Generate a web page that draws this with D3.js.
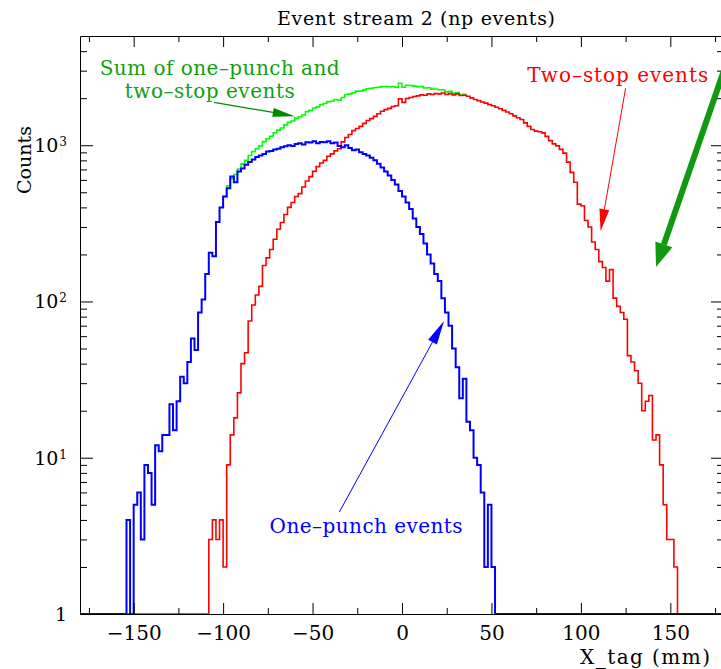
<!DOCTYPE html>
<html>
<head>
<meta charset="utf-8">
<script src="https://cdn.jsdelivr.net/npm/d3@7"></script>
<style>
  body { margin: 0; background: #fff; }
  svg { display: block; }
  text { font-family: "DejaVu Serif", "Liberation Serif", serif; }
</style>
</head>
<body>
<div id="chart"></div>
<script>
// histogram bins are 2 mm wide; each series starts at its own left edge
const binWidth = 2;

// one-punch events (blue)
const onePunchStart = -154;
const onePunchCounts = [
  4, 0, 5, 6, 3, 9, 8, 5, 12, 11,
  14, 14, 22, 15, 23, 33, 30, 41, 58, 49,
  85, 103, 150, 205, 195, 322, 400, 470, 530, 630,
  580, 680, 710, 750, 780, 810, 840, 860, 880, 910,
  920, 940, 950, 970, 985, 1000, 990, 1020, 1030, 1010,
  1045, 1040, 1060, 1030, 1050, 1045, 1060, 1030, 1040, 990,
  970, 1000, 960, 930, 940, 900, 880, 860, 830, 800,
  760, 720, 680, 640, 600, 560, 510, 470, 430, 390,
  340, 300, 270, 235, 200, 175, 150, 135, 105, 85,
  70, 50, 38, 24, 32, 17, 15, 10, 9, 6,
  2, 5, 2
];

// two-stop events (red)
const twoStopStart = -108;
const twoStopCounts = [
  3, 4, 3, 4, 2, 9, 14, 18, 26, 40,
  47, 75, 95, 110, 125, 170, 190, 215, 250, 290,
  320, 360, 400, 430, 470, 490, 540, 590, 630, 680,
  730, 770, 800, 850, 880, 920, 950, 1050, 1120, 1170,
  1240, 1280, 1320, 1380, 1440, 1480, 1530, 1590, 1650, 1690,
  1720, 1770, 1790, 1980, 1880, 1990, 2020, 2050, 2070, 2100,
  2090, 2130, 2110, 2140, 2130, 2160, 2110, 2140, 2100, 2130,
  2080, 2090, 2060, 2010, 1960, 1930, 1890, 1860, 1820, 1790,
  1750, 1710, 1670, 1630, 1590, 1540, 1500, 1460, 1390, 1320,
  1260, 1230, 1220, 1200, 1140, 1070, 1020, 990, 940, 890,
  780, 670, 580, 420, 410, 330, 300, 240, 215, 180,
  165, 135, 160, 105, 93, 85, 77, 45, 41, 36,
  30, 20, 23, 25, 13, 14, 9, 5, 3, 3,
  2
];

// sum of one-punch and two-stop (green), visible part only
const sumStart = -100;
const sumCounts = [
  470, 550, 610, 650, 705, 760, 800, 860, 910, 950,
  990, 1055, 1100, 1140, 1200, 1250, 1290, 1350, 1400, 1430,
  1490, 1520, 1560, 1640, 1670, 1730, 1760, 1820, 1850, 1900,
  1910, 1960, 1940, 2020, 2110, 2130, 2170, 2220, 2220, 2260,
  2300, 2310, 2330, 2350, 2370, 2370, 2360, 2370, 2350, 2490,
  2350, 2420, 2410, 2390, 2370, 2370, 2325, 2330, 2285, 2290,
  2265, 2265, 2195, 2210, 2150, 2170, 2105, 2120
];

const xMajorTicks = [-150, -100, -50, 0, 50, 100, 150];
const xMinorTicks = [-175, -125, -75, -25, 25, 75, 125, 175];
const yMajorTicks = [1, 10, 100, 1000];
const yMinorTicks = [2, 3, 4, 5, 6, 7, 8, 9, 20, 30, 40, 50, 60, 70, 80, 90,
                     200, 300, 400, 500, 600, 700, 800, 900, 2000, 3000, 4000];

const W = 721, H = 669;
const margin = { top: 36, right: -3, bottom: 55, left: 80 };
const width = W - margin.left - margin.right,
      height = H - margin.top - margin.bottom;

const svg = d3.select("#chart").append("svg")
    .attr("width", W)
    .attr("height", H);

const g = svg.append("g")
    .attr("transform", "translate(" + margin.left + "," + margin.top + ")");

// scales
const x = d3.scaleLinear().domain([-180, 180]).range([0, width]);
const y = d3.scaleLog().domain([1, 5000]).range([height, 0]);
const yc = v => y(Math.max(v, 1));

g.append("clipPath").attr("id", "plot-clip")
  .append("rect").attr("width", width).attr("height", height + 2).attr("y", -1);

// step outline of a histogram
function histPoints(start, counts, closed) {
  const pts = counts.map((c, i) => [start + i * binWidth, c]);
  const end = start + counts.length * binWidth;
  if (closed) {
    pts.unshift([-180, 0]);
    pts.push([end, 0], [180, 0]);
  } else {
    pts.push([end, counts[counts.length - 1]]);
  }
  return pts;
}

const line = d3.line()
    .x(d => x(d[0]))
    .y(d => yc(d[1]))
    .curve(d3.curveStepAfter);

const plot = g.append("g").attr("clip-path", "url(#plot-clip)");

plot.append("path")
    .attr("d", line(histPoints(sumStart, sumCounts, false)))
    .attr("fill", "none").attr("stroke", "#00ff00").attr("stroke-width", 1.6);

plot.append("path")
    .attr("d", line(histPoints(twoStopStart, twoStopCounts, true)))
    .attr("fill", "none").attr("stroke", "#ff0000").attr("stroke-width", 1.6);

plot.append("path")
    .attr("d", line(histPoints(onePunchStart, onePunchCounts, true)))
    .attr("fill", "none").attr("stroke", "#0000ff").attr("stroke-width", 2);

// axes: ticks on all four sides, pointing inwards
function styleAxis(sel) {
  sel.selectAll("path, line").attr("stroke", "#000").attr("stroke-width", 1);
  sel.selectAll("text").attr("fill", "#000").style("font-family", "DejaVu Serif, serif");
}

const xAxis = d3.axisBottom(x).tickValues(xMajorTicks).tickSizeInner(-11).tickSizeOuter(0).tickPadding(12);
g.append("g").attr("class", "x-axis axis")
    .attr("transform", "translate(0," + height + ")")
    .call(xAxis)
    .call(styleAxis)
    .selectAll("text").style("font-size", "20px");

g.append("g").attr("transform", "translate(0," + height + ")")
    .call(d3.axisBottom(x).tickValues(xMinorTicks).tickSizeInner(-6).tickSizeOuter(0).tickFormat(""))
    .call(styleAxis).select(".domain").remove();

g.append("g")
    .call(d3.axisTop(x).tickValues(xMajorTicks).tickSizeInner(-11).tickSizeOuter(0).tickFormat(""))
    .call(styleAxis);
g.append("g")
    .call(d3.axisTop(x).tickValues(xMinorTicks).tickSizeInner(-6).tickSizeOuter(0).tickFormat(""))
    .call(styleAxis).select(".domain").remove();

const yAxis = d3.axisLeft(y).tickValues(yMajorTicks).tickSizeInner(-13).tickSizeOuter(0).tickPadding(13).tickFormat("");
const yG = g.append("g").attr("class", "y-axis axis").call(yAxis).call(styleAxis);
yG.selectAll(".tick").each(function (d) {
  const t = d3.select(this).select("text")
      .style("font-size", "19px")
      .attr("dy", "0.34em");
  if (d === 1) {
    t.text("1");
  } else {
    t.text("10");
    t.append("tspan").text(Math.round(Math.log10(d)))
        .attr("dy", "-0.5em").attr("dx", "1").style("font-size", "12px");
  }
});

g.append("g")
    .call(d3.axisLeft(y).tickValues(yMinorTicks).tickSizeInner(-7).tickSizeOuter(0).tickFormat(""))
    .call(styleAxis).select(".domain").remove();

g.append("g").attr("transform", "translate(" + width + ",0)")
    .call(d3.axisRight(y).tickValues(yMajorTicks).tickSizeInner(-13).tickSizeOuter(0).tickFormat(""))
    .call(styleAxis);
g.append("g").attr("transform", "translate(" + width + ",0)")
    .call(d3.axisRight(y).tickValues(yMinorTicks).tickSizeInner(-7).tickSizeOuter(0).tickFormat(""))
    .call(styleAxis).select(".domain").remove();

// titles
svg.append("text")
    .attr("x", 277).attr("y", 25)
    .attr("textLength", 278).attr("lengthAdjust", "spacing")
    .style("font-size", "19px")
    .text("Event stream 2 (np events)");

svg.append("text")
    .attr("transform", "translate(31,160) rotate(-90)")
    .attr("text-anchor", "middle")
    .style("font-size", "19px")
    .text("Counts");

svg.append("text")
    .attr("x", 580).attr("y", 664)
    .attr("textLength", 130).attr("lengthAdjust", "spacing")
    .style("font-size", "20px")
    .text("X_tag (mm)");

// annotations, placed in data coordinates
function arrow(from, to, color, width, headLen, headW) {
  const x1 = x(from[0]), y1 = yc(from[1]), x2 = x(to[0]), y2 = yc(to[1]);
  const a = Math.atan2(y2 - y1, x2 - x1);
  const bx = x2 - headLen * Math.cos(a), by = y2 - headLen * Math.sin(a);
  g.append("line")
      .attr("x1", x1).attr("y1", y1).attr("x2", bx).attr("y2", by)
      .attr("stroke", color).attr("stroke-width", width);
  const px = -Math.sin(a) * headW / 2, py = Math.cos(a) * headW / 2;
  g.append("polygon")
      .attr("points", [[x2, y2], [bx + px, by + py], [bx - px, by - py]].map(p => p.join(",")).join(" "))
      .attr("fill", color);
}

function note(text, at, len, color) {
  g.append("text").attr("x", x(at[0])).attr("y", yc(at[1]))
      .attr("textLength", len).attr("lengthAdjust", "spacing")
      .attr("fill", color).style("font-size", "20px")
      .text(text);
}

const greenText = "#10a010";
note("Sum of one\u2013punch and", [-169, 2820], 240, greenText);
note("two\u2013stop events", [-155, 2000], 170, greenText);
arrow([-105, 1880], [-60, 1535], "#008a00", 1.2, 22, 9);

note("Two\u2013stop events", [70, 2535], 181, "#ff0000");
arrow([125, 2318], [111, 282], "#ff0000", 1, 22, 10);

arrow([181, 3254], [142, 166], "#119911", 6, 24, 18);

note("One\u2013punch events", [-74, 3.3], 193, "#0000ff");
arrow([-35, 4.5], [23.5, 75], "#0000ff", 1, 24, 10);
</script>
</body>
</html>
